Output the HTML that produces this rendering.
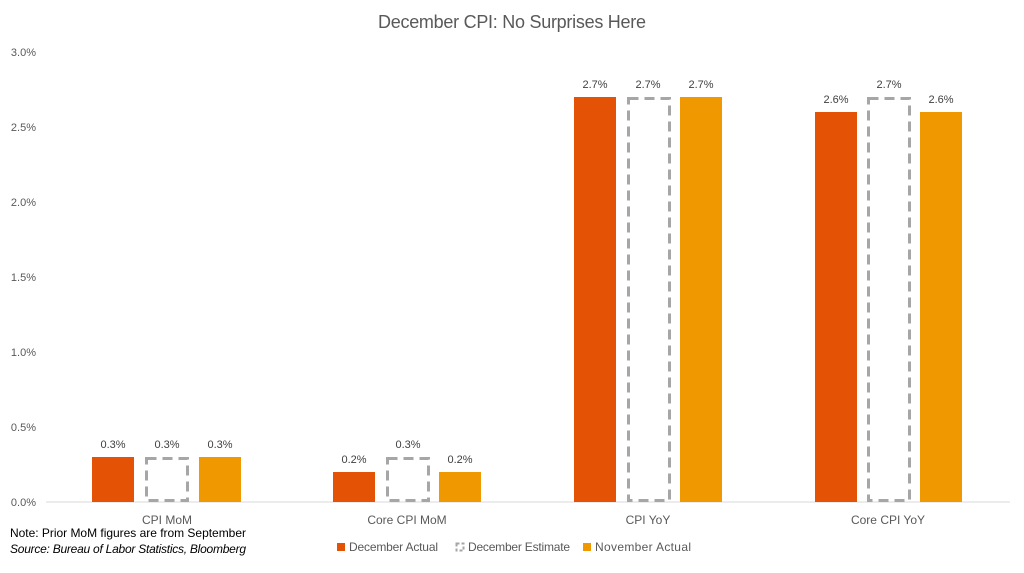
<!DOCTYPE html>
<html><head><meta charset="utf-8"><style>
body{margin:0;background:#fff;}
svg text{font-family:"Liberation Sans",sans-serif;}
</style></head><body>
<svg width="1024" height="568" viewBox="0 0 1024 568" xmlns="http://www.w3.org/2000/svg">
<rect width="1024" height="568" fill="#fff"/>
<text x="512" y="28" text-anchor="middle" font-size="18" fill="#595959" textLength="268">December CPI: No Surprises Here</text>
<g font-size="11" fill="#595959" text-anchor="end">
<text x="36" y="506">0.0%</text><text x="36" y="431">0.5%</text><text x="36" y="356">1.0%</text>
<text x="36" y="281">1.5%</text><text x="36" y="206">2.0%</text><text x="36" y="131">2.5%</text><text x="36" y="56">3.0%</text>
</g>
<line x1="46" y1="502" x2="1010" y2="502" stroke="#d9d9d9" stroke-width="1"/>
<g fill="#E35205">
<rect x="92" y="457" width="42" height="45"/><rect x="333" y="472" width="42" height="30"/>
<rect x="574" y="97" width="42" height="405"/><rect x="815" y="112" width="42" height="390"/>
</g>
<g fill="#F09800">
<rect x="199" y="457" width="42" height="45"/><rect x="439" y="472" width="42" height="30"/>
<rect x="680" y="97" width="42" height="405"/><rect x="920" y="112" width="42" height="390"/>
</g>
<g fill="none" stroke="#a6a6a6" stroke-width="3" stroke-dasharray="10,6">
<rect x="146.5" y="458.5" width="41" height="42"/><rect x="387.5" y="458.5" width="41" height="42"/>
<rect x="628.5" y="98.5" width="41" height="402"/><rect x="868.5" y="98.5" width="41" height="402"/>
</g>
<g font-size="11" fill="#404040" text-anchor="middle">
<text x="113" y="448">0.3%</text><text x="167" y="448">0.3%</text><text x="220" y="448">0.3%</text>
<text x="354" y="463">0.2%</text><text x="408" y="448">0.3%</text><text x="460" y="463">0.2%</text>
<text x="595" y="88">2.7%</text><text x="648" y="88">2.7%</text><text x="701" y="88">2.7%</text>
<text x="836" y="103">2.6%</text><text x="889" y="88">2.7%</text><text x="941" y="103">2.6%</text>
</g>
<g font-size="12" fill="#595959" text-anchor="middle">
<text x="167" y="524">CPI MoM</text><text x="407" y="524">Core CPI MoM</text>
<text x="648" y="524">CPI YoY</text><text x="888" y="524">Core CPI YoY</text>
</g>
<text x="10" y="537" font-size="12" fill="#000" textLength="236">Note: Prior MoM figures are from September</text>
<text x="10" y="553" font-size="12" fill="#000" font-style="italic" textLength="236">Source: Bureau of Labor Statistics, Bloomberg</text>
<g font-size="12" fill="#595959">
<rect x="337" y="543" width="8" height="8" fill="#E35205"/><text x="349" y="551" textLength="89">December Actual</text>
<rect x="456.5" y="543.5" width="7" height="7" fill="none" stroke="#a6a6a6" stroke-width="2" stroke-dasharray="3,2"/><text x="468" y="551" textLength="102">December Estimate</text>
<rect x="583" y="543" width="8" height="8" fill="#F09800"/><text x="595" y="551" textLength="96">November Actual</text>
</g>
</svg>
</body></html>
